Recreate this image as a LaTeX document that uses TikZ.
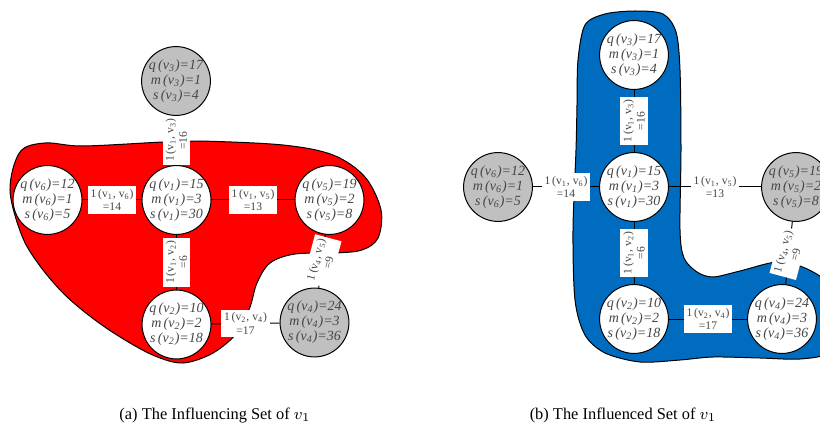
\documentclass[tikz,border=0pt]{standalone}
\usepackage{fontspec}
\setmainfont{Liberation Serif}
\definecolor{grayfill}{RGB}{192,192,192}
\definecolor{blueblob}{RGB}{0,108,192}
\definecolor{txt}{RGB}{70,70,70}
\begin{document}
\begin{tikzpicture}[x=0.5pt,y=-0.5pt,
  vnode/.style={circle,draw=black,line width=0.5pt,minimum size=34pt,inner sep=0pt,align=center,
    font=\fontsize{7}{7.5}\selectfont\itshape,text=txt},
  innode/.style={vnode,fill=white},
  outnode/.style={vnode,fill=grayfill},
  wlab/.style={fill=white,inner xsep=1.4pt,inner ysep=1.5pt,align=center,font=\fontsize{5.8}{6.6}\selectfont,text=txt},
  edge/.style={line width=0.5pt,draw=black},
  blob/.style={line width=0.5pt,draw=black},
  captext/.style={font=\fontsize{8.2}{10}\selectfont,text=black}]
\useasboundingbox (0,0) rectangle (820,433);
\clip (0,0) rectangle (820,433);
% ---------------- left panel ----------------
\draw[blob,fill=red] plot[smooth cycle, tension=0.55] coordinates {
 (10,190) (20,152) (45,143) (83,146) (163,142) (200,141) (283,145) (333,155) (365,177)
 (381,210) (378,238) (362,250) (335,253) (295,254) (270,263) (257,283) (250,307)
 (238,332) (213,353) (183,363) (155,356) (125,340) (95,320) (65,295) (40,266) (22,236)};
\node[outnode] (a3) at (176,81) {q\,(v\textsubscript{3})=17\\m\,(v\textsubscript{3})=1\\s\,(v\textsubscript{3})=4};
\node[innode] (a1) at (176.5,200) {q\,(v\textsubscript{1})=15\\m\,(v\textsubscript{1})=3\\s\,(v\textsubscript{1})=30};
\node[innode] (a6) at (47.5,200) {q\,(v\textsubscript{6})=12\\m\,(v\textsubscript{6})=1\\s\,(v\textsubscript{6})=5};
\node[innode] (a5) at (329.5,200) {q\,(v\textsubscript{5})=19\\m\,(v\textsubscript{5})=2\\s\,(v\textsubscript{5})=8};
\node[innode] (a2) at (176.5,324.5) {q\,(v\textsubscript{2})=10\\m\,(v\textsubscript{2})=2\\s\,(v\textsubscript{2})=18};
\node[outnode] (a4) at (314.5,322.5) {q\,(v\textsubscript{4})=24\\m\,(v\textsubscript{4})=3\\s\,(v\textsubscript{4})=36};
\draw[edge] (a1) -- node[wlab,rotate=90] {1\,(v\textsubscript{1}, v\textsubscript{3})\\=16} (a3);
\draw[edge] (a6) -- node[wlab] {1\,(v\textsubscript{1}, v\textsubscript{6})\\=14} (a1);
\draw[edge] (a1) -- node[wlab] {1\,(v\textsubscript{1}, v\textsubscript{5})\\=13} (a5);
\draw[edge] (a2) -- node[wlab,rotate=90] {1\,(v\textsubscript{1}, v\textsubscript{2})\\=6} (a1);
\draw[edge] (a2) -- node[wlab] {1\,(v\textsubscript{2}, v\textsubscript{4})\\=17} (a4);
\draw[edge] (a4) -- node[wlab,rotate=75] {1\,(v\textsubscript{4}, v\textsubscript{5})\\=9} (a5);
% ---------------- right panel ----------------
\draw[blob,fill=blueblob] plot[smooth cycle, tension=0.5] coordinates {
 (578,60) (585,25) (605,14) (635,11) (663,14) (676,32) (680,70) (681,150) (680,230)
 (684,258) (697,272) (713,277) (740,271) (777,262) (805,268) (830,285) (845,320)
 (830,352) (800,359) (760,358) (713,357) (680,360) (640,362) (605,353) (585,335)
 (575,300) (573,230) (576,150) (577,105)};
\node[innode] (b3) at (634,55) {q\,(v\textsubscript{3})=17\\m\,(v\textsubscript{3})=1\\s\,(v\textsubscript{3})=4};
\node[innode] (b1) at (634,187) {q\,(v\textsubscript{1})=15\\m\,(v\textsubscript{1})=3\\s\,(v\textsubscript{1})=30};
\node[outnode] (b6) at (498,187) {q\,(v\textsubscript{6})=12\\m\,(v\textsubscript{6})=1\\s\,(v\textsubscript{6})=5};
\node[outnode] (b5) at (796,187) {q\,(v\textsubscript{5})=19\\m\,(v\textsubscript{5})=2\\s\,(v\textsubscript{5})=8};
\node[innode] (b2) at (634,319) {q\,(v\textsubscript{2})=10\\m\,(v\textsubscript{2})=2\\s\,(v\textsubscript{2})=18};
\node[innode] (b4) at (782,319) {q\,(v\textsubscript{4})=24\\m\,(v\textsubscript{4})=3\\s\,(v\textsubscript{4})=36};
\draw[edge] (b1) -- node[wlab,rotate=90] {1\,(v\textsubscript{1}, v\textsubscript{3})\\=16} (b3);
\draw[edge] (b6) -- node[wlab] {1\,(v\textsubscript{1}, v\textsubscript{6})\\=14} (b1);
\draw[edge] (b1) -- node[wlab] {1\,(v\textsubscript{1}, v\textsubscript{5})\\=13} (b5);
\draw[edge] (b2) -- node[wlab,rotate=90] {1\,(v\textsubscript{1}, v\textsubscript{2})\\=6} (b1);
\draw[edge] (b2) -- node[wlab] {1\,(v\textsubscript{2}, v\textsubscript{4})\\=17} (b4);
\draw[edge] (b4) -- node[wlab,rotate=75] {1\,(v\textsubscript{4}, v\textsubscript{5})\\=9} (b5);
% ---------------- captions ----------------
\node[captext] (capa) at (215,415) {(a) The Influencing Set of $v_1$};
\node[captext] (capb) at (623,415) {(b) The Influenced Set of $v_1$};
\end{tikzpicture}
\end{document}
